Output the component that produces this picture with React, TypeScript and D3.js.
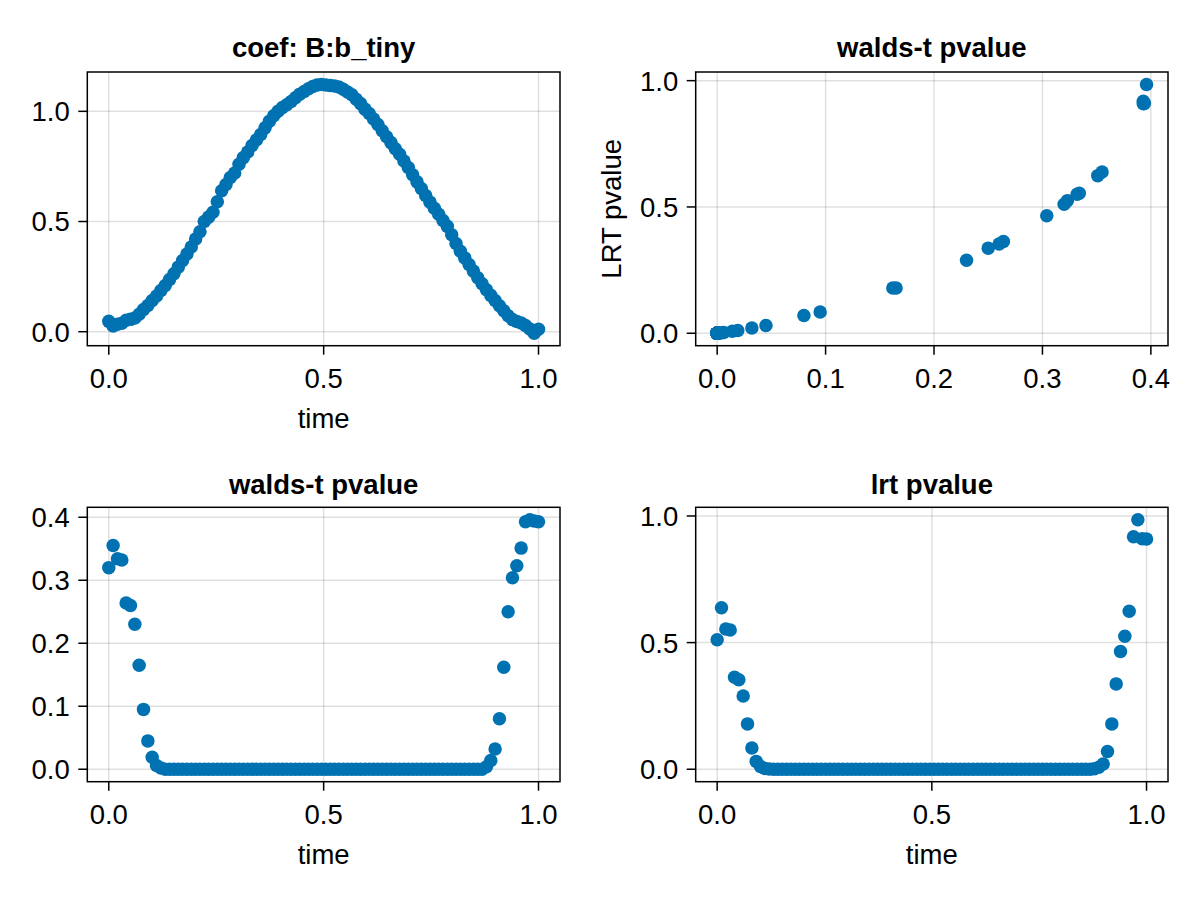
import React from "react";
import * as d3 from "d3";

// ---- data ----
const N_TIMES = 100;
const time: number[] = d3.range(N_TIMES).map((i) => i / (N_TIMES - 1));

const coefValues: number[] = [
  0.047, 0.026, 0.034, 0.038, 0.052, 0.056, 0.062, 0.079, 0.101, 0.119,
  0.142, 0.162, 0.187, 0.21, 0.237, 0.263, 0.293, 0.323, 0.353, 0.384,
  0.421, 0.454, 0.5, 0.52, 0.542, 0.59, 0.64, 0.668, 0.7, 0.72,
  0.76, 0.79, 0.815, 0.845, 0.87, 0.895, 0.925, 0.955, 0.98, 1.0,
  1.017, 1.03, 1.045, 1.062, 1.078, 1.09, 1.102, 1.113, 1.12, 1.122,
  1.12, 1.117, 1.115, 1.11, 1.1, 1.088, 1.075, 1.055, 1.035, 1.01,
  0.99, 0.965, 0.94, 0.912, 0.885, 0.858, 0.83, 0.805, 0.775, 0.745,
  0.712, 0.68, 0.65, 0.618, 0.588, 0.56, 0.533, 0.505, 0.478, 0.44,
  0.4, 0.365, 0.335, 0.305, 0.275, 0.245, 0.218, 0.19, 0.165, 0.142,
  0.118, 0.095, 0.072, 0.055, 0.046, 0.04, 0.028, 0.012, -0.007, 0.011,
];

const waldsHead: number[] = [0.32, 0.355, 0.334, 0.332, 0.264, 0.26, 0.23, 0.165, 0.095, 0.045, 0.019, 0.006, 0.002];
const waldsTail: number[] = [0.004, 0.014, 0.032, 0.08, 0.162, 0.25, 0.304, 0.323, 0.351, 0.393, 0.396, 0.394, 0.393];
const lrtHead: number[] = [0.511, 0.638, 0.554, 0.55, 0.363, 0.353, 0.289, 0.179, 0.084, 0.031, 0.011, 0.003, 0.001];
const lrtTail: number[] = [0.002, 0.008, 0.021, 0.07, 0.179, 0.337, 0.465, 0.525, 0.624, 0.918, 0.985, 0.91, 0.909];
const middleCount = N_TIMES - waldsHead.length - waldsTail.length;
const waldsValues: number[] = [...waldsHead, ...new Array(middleCount).fill(0), ...waldsTail];
const lrtValues: number[] = [...lrtHead, ...new Array(middleCount).fill(0), ...lrtTail];

const ticksUnit: number[] = [0, 0.5, 1.0];
const ticksWaldsX: number[] = [0, 0.1, 0.2, 0.3, 0.4];
const ticksWaldsY: number[] = [0, 0.1, 0.2, 0.3, 0.4];

// ---- styling ----
const BLUE = "#0072B2";
const FONT = "'Liberation Sans', Arial, Helvetica, sans-serif";
const FS = 27.5;
const R = 6.75;

type Box = { x0: number; x1: number; y0: number; y1: number };

function padded(vals: number[]): [number, number] {
  const [lo, hi] = d3.extent(vals) as [number, number];
  const p = (hi - lo) * 0.05;
  return [lo - p, hi + p];
}

function Panel(props: {
  box: Box;
  xs: number[];
  ys: number[];
  xTicks: number[];
  yTicks: number[];
  title: string;
  titleGap: number;
  xLabel?: string;
  yLabel?: string;
}) {
  const { box, xs, ys, xTicks, yTicks, title, titleGap, xLabel, yLabel } = props;
  const x = d3.scaleLinear().domain(padded(xs)).range([box.x0, box.x1]);
  const y = d3.scaleLinear().domain(padded(ys)).range([box.y1, box.y0]);
  const fmt = d3.format(".1f");
  const cx = (box.x0 + box.x1) / 2;
  const cy = (box.y0 + box.y1) / 2;
  return (
    <g>
      {/* grid */}
      {xTicks.map((t) => (
        <line key={"gx" + t} x1={x(t)} x2={x(t)} y1={box.y0} y2={box.y1} stroke="rgba(0,0,0,0.12)" strokeWidth={1.5} />
      ))}
      {yTicks.map((t) => (
        <line key={"gy" + t} x1={box.x0} x2={box.x1} y1={y(t)} y2={y(t)} stroke="rgba(0,0,0,0.12)" strokeWidth={1.5} />
      ))}
      {/* points */}
      {xs.map((v, i) => (
        <circle key={"p" + i} cx={x(v)} cy={y(ys[i])} r={R} fill={BLUE} />
      ))}
      {/* spines */}
      <rect x={box.x0} y={box.y0} width={box.x1 - box.x0} height={box.y1 - box.y0} fill="none" stroke="#000" strokeWidth={1.5} />
      {/* x ticks */}
      {xTicks.map((t) => (
        <g key={"tx" + t}>
          <line x1={x(t)} x2={x(t)} y1={box.y1} y2={box.y1 + 9} stroke="#000" strokeWidth={1.5} />
          <text x={x(t)} y={box.y1 + 42} textAnchor="middle" fontFamily={FONT} fontSize={FS} fill="#000">
            {fmt(t)}
          </text>
        </g>
      ))}
      {/* y ticks */}
      {yTicks.map((t) => (
        <g key={"ty" + t}>
          <line x1={box.x0 - 9} x2={box.x0} y1={y(t)} y2={y(t)} stroke="#000" strokeWidth={1.5} />
          <text x={box.x0 - 17.5} y={y(t)} dy="0.36em" textAnchor="end" fontFamily={FONT} fontSize={FS} fill="#000">
            {fmt(t)}
          </text>
        </g>
      ))}
      <text x={cx} y={box.y0 - titleGap} textAnchor="middle" fontFamily={FONT} fontSize={FS} fontWeight="bold" fill="#000">
        {title}
      </text>
      {xLabel && (
        <text x={cx} y={box.y1 + 82} textAnchor="middle" fontFamily={FONT} fontSize={FS} fill="#000">
          {xLabel}
        </text>
      )}
      {yLabel && (
        <text
          transform={`translate(${box.x0 - 74.5},${cy}) rotate(-90)`}
          textAnchor="middle"
          fontFamily={FONT}
          fontSize={FS}
          fill="#000"
        >
          {yLabel}
        </text>
      )}
    </g>
  );
}

export default function App() {
  const top = { y0: 72, y1: 345.7 };
  const bot = { y0: 507.3, y1: 781.7 };
  const left = { x0: 87.3, x1: 560 };
  const right = { x0: 695.7, x1: 1168 };
  return (
    <svg width={1200} height={900} style={{ position: "absolute", left: 0, top: 0, background: "#fff" }}>
      <rect x={0} y={0} width={1200} height={900} fill="#fff" />
      <Panel box={{ ...left, ...top }} xs={time} ys={coefValues} xTicks={ticksUnit} yTicks={ticksUnit} title="coef: B:b_tiny" titleGap={15} xLabel="time" />
      <Panel box={{ ...right, ...top }} xs={waldsValues} ys={lrtValues} xTicks={ticksWaldsX} yTicks={ticksUnit} title="walds-t pvalue" titleGap={15} yLabel="LRT pvalue" />
      <Panel box={{ ...left, ...bot }} xs={time} ys={waldsValues} xTicks={ticksUnit} yTicks={ticksWaldsY} title="walds-t pvalue" titleGap={13} xLabel="time" />
      <Panel box={{ ...right, ...bot }} xs={time} ys={lrtValues} xTicks={ticksUnit} yTicks={ticksUnit} title="lrt pvalue" titleGap={13} xLabel="time" />
    </svg>
  );
}
